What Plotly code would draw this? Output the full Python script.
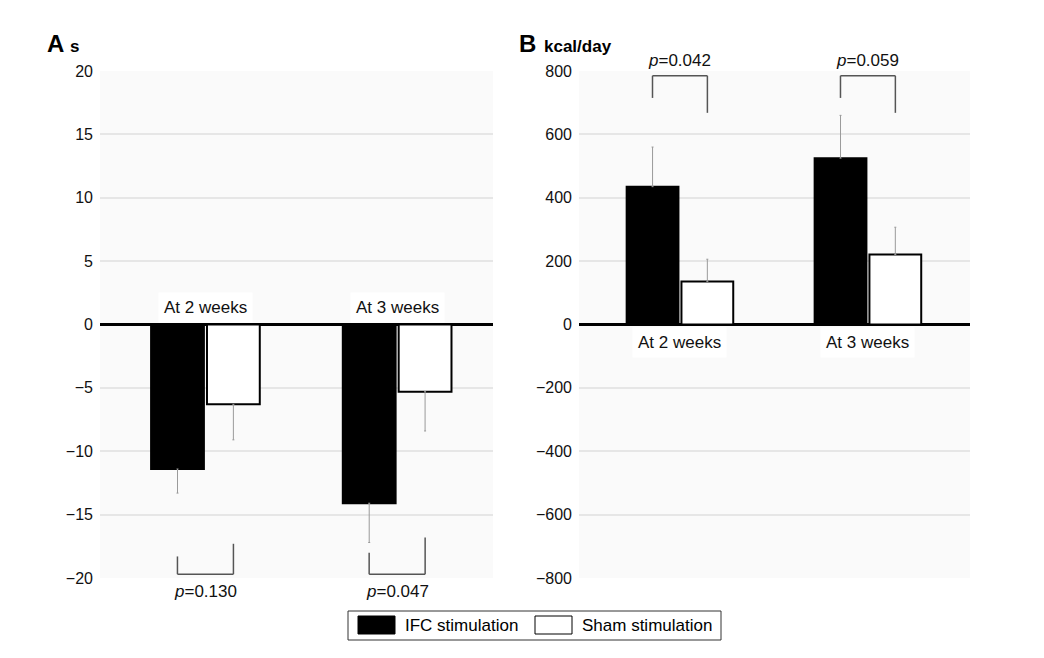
import plotly.graph_objects as go

# ---------------- data ----------------
categories = ["At 2 weeks", "At 3 weeks"]
series_names = ["IFC stimulation", "Sham stimulation"]

# Panel A (s)
ifc_s = [-11.4, -14.1]
ifc_s_err = [1.9, 3.1]
sham_s = [-6.3, -5.3]
sham_s_err = [2.8, 3.1]
p_s = ["0.130", "0.047"]

# Panel B (kcal/day)
ifc_kcal = [435, 525]
ifc_kcal_err = [125, 135]
sham_kcal = [136, 221]
sham_kcal_err = [70, 86]
p_kcal = ["0.042", "0.059"]

yticks_s = [-20, -15, -10, -5, 0, 5, 10, 15, 20]
yticks_kcal = [-800, -600, -400, -200, 0, 200, 400, 600, 800]

# ---------------- style ----------------
W, H = 1044, 658
OFF = 8  # page body margin
FONT = "Liberation Sans, Arial, sans-serif"
ERR_COLOR = "#9a9a9a"
BRACKET_COLOR = "#555555"
GRID = "#e6e6e6"
PLOT_BG = "#fafafa"
FILLS = ["#000000", "#ffffff"]
TXT = 17

def px_x(p):
    return (p - OFF) / W

def px_y(p):
    return 1 - (p - OFF) / H

fig = go.Figure()

def add_bars(xa, ya, ifc, ifc_err, sham, sham_err, negative):
    for name, vals, errs, fill in [
        (series_names[0], ifc, ifc_err, FILLS[0]),
        (series_names[1], sham, sham_err, FILLS[1]),
    ]:
        zeros = [0] * len(errs)
        err = dict(type="data", symmetric=False,
                   array=zeros if negative else errs,
                   arrayminus=errs if negative else zeros,
                   color=ERR_COLOR, thickness=1, width=1)
        fig.add_trace(go.Bar(
            x=categories, y=vals, name=name, xaxis=xa, yaxis=ya,
            marker=dict(color=fill, line=dict(color="#000000", width=2)),
            error_y=err, showlegend=False,
        ))

add_bars("x", "y", ifc_s, ifc_s_err, sham_s, sham_s_err, True)
add_bars("x2", "y2", ifc_kcal, ifc_kcal_err, sham_kcal, sham_kcal_err, False)

ydom = [px_y(578), px_y(71)]
common_x = dict(type="category", showticklabels=False, showgrid=False,
                zeroline=False, showline=False, ticks="", automargin=False)
common_y = dict(showgrid=True, gridcolor=GRID, gridwidth=1.5, zeroline=True,
                zerolinecolor="#000000", zerolinewidth=3, showline=False,
                ticks="", ticklabelstandoff=6, automargin=False,
                tickfont=dict(family=FONT, size=16, color="#111111"),
                domain=ydom)

fig.update_layout(
    width=W, height=H,
    margin=dict(l=0, r=0, t=0, b=0, pad=0),
    paper_bgcolor="white",
    plot_bgcolor=PLOT_BG,
    barmode="group", bargap=0.417, bargroupgap=0.055,
    font=dict(family=FONT, size=15, color="#111111"),
    showlegend=False,
    xaxis=dict(common_x, domain=[px_x(100), px_x(493)], range=[-0.55, 1.5]),
    yaxis=dict(common_y, range=[-20, 20], tickvals=yticks_s),
    xaxis2=dict(common_x, domain=[px_x(579), px_x(970)], range=[-0.537, 1.543]),
    yaxis2=dict(common_y, range=[-800, 800], tickvals=yticks_kcal, anchor="x2"),
)

# panel titles
def ptext(x, y, text, size, anchor="left"):
    fig.add_annotation(xref="paper", yref="paper", x=px_x(x), y=px_y(y), text=text,
                       showarrow=False, xanchor=anchor, yanchor="middle",
                       font=dict(family=FONT, size=size, color="#000"))

ptext(45, 44, "<b>A</b>", 24)
ptext(68, 47, "<b>s</b>", 17)
ptext(517, 44, "<b>B</b>", 24)
ptext(542, 46, "<b>kcal/day</b>", 17)

# category labels
for i, c in enumerate(categories):
    fig.add_annotation(xref="x", yref="y", x=i, y=0, text=c, showarrow=False,
                       yanchor="bottom", yshift=2, bgcolor="white", borderpad=5,
                       font=dict(family=FONT, size=TXT))
    fig.add_annotation(xref="x2", yref="y2", x=i, y=0, text=c, showarrow=False,
                       yanchor="top", yshift=-2, bgcolor="white", borderpad=5,
                       font=dict(family=FONT, size=TXT))

# significance brackets
half = 0.146
brackets_s = [(-18.3, -17.3, -19.7), (-18.0, -16.8, -19.7)]   # left-leg top, right-leg top, base
brackets_kcal = [(715, 668, 785), (715, 668, 785)]           # left-leg end, right-leg end, top

def bracket(xr, yr, i, yl, yrr, yb):
    line = dict(color=BRACKET_COLOR, width=1.5)
    fig.add_shape(type="line", xref=xr, yref=yr, x0=i - half, x1=i - half, y0=yl, y1=yb, line=line)
    fig.add_shape(type="line", xref=xr, yref=yr, x0=i - half, x1=i + half, y0=yb, y1=yb, line=line)
    fig.add_shape(type="line", xref=xr, yref=yr, x0=i + half, x1=i + half, y0=yrr, y1=yb, line=line)

for i in range(len(categories)):
    bracket("x", "y", i, *brackets_s[i])
    bracket("x2", "y2", i, *brackets_kcal[i])
    fig.add_annotation(xref="x", yref="y", x=i, y=-20, text="<i>p</i>=" + p_s[i],
                       showarrow=False, yanchor="top", yshift=-2,
                       font=dict(family=FONT, size=TXT))
    fig.add_annotation(xref="x2", yref="y2", x=i, y=800, text="<i>p</i>=" + p_kcal[i],
                       showarrow=False, yanchor="bottom", yshift=-1,
                       font=dict(family=FONT, size=TXT))

# legend box (drawn in paper space)
fig.add_shape(type="rect", xref="paper", yref="paper",
              x0=px_x(348), x1=px_x(721), y0=px_y(640), y1=px_y(611),
              line=dict(color="#333333", width=1), fillcolor="white")
legend_items = [(358, series_names[0]), (535, series_names[1])]
for (lx, name), fill in zip(legend_items, FILLS):
    fig.add_shape(type="rect", xref="paper", yref="paper",
                  x0=px_x(lx), x1=px_x(lx + 37), y0=px_y(634), y1=px_y(616),
                  line=dict(color="#000000", width=1), fillcolor=fill)
    ptext(lx + 45, 625, name, TXT)

fig.write_html("out.html")
